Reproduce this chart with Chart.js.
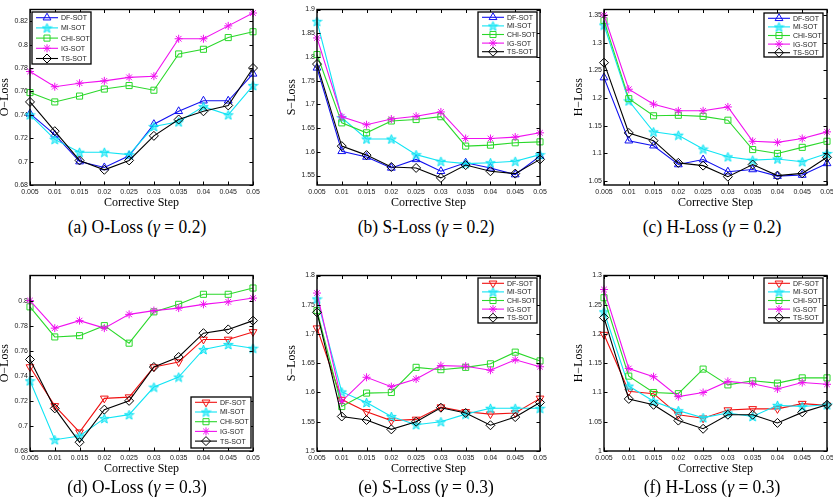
<!DOCTYPE html>
<html>
<head>
<meta charset="utf-8">
<script src="https://cdn.jsdelivr.net/npm/chart.js@4.4.1/dist/chart.umd.min.js"></script>
<style>
html,body{margin:0;padding:0;background:#fff;width:833px;height:498px;overflow:hidden;position:relative}
canvas{position:absolute}
.cap{position:absolute;font-family:"Liberation Serif","Times New Roman",serif;font-size:18px;line-height:20px;color:#000;white-space:nowrap;transform:translate(-50%,-50%) scaleX(0.97);}
</style>
</head>
<body>
<canvas id="ca"></canvas>
<canvas id="cb"></canvas>
<canvas id="cc"></canvas>
<canvas id="cd"></canvas>
<canvas id="ce"></canvas>
<canvas id="cf"></canvas>
<div class="cap" style="left:137px;top:227px">(a) O-Loss (<i>γ</i> = 0.2)</div>
<div class="cap" style="left:426px;top:227px">(b) S-Loss (<i>γ</i> = 0.2)</div>
<div class="cap" style="left:712px;top:227px">(c) H-Loss (<i>γ</i> = 0.2)</div>
<div class="cap" style="left:137px;top:487px">(d) O-Loss (<i>γ</i> = 0.3)</div>
<div class="cap" style="left:426px;top:487px">(e) S-Loss (<i>γ</i> = 0.3)</div>
<div class="cap" style="left:712px;top:487px">(f) H-Loss (<i>γ</i> = 0.3)</div>
<script>
// ---------- DATA ----------
const steps = ['0.005','0.01','0.015','0.02','0.025','0.03','0.035','0.04','0.045','0.05'];
const seriesNames = ['DF-SOT','MI-SOT','CHI-SOT','IG-SOT','TS-SOT'];

// (a) O-Loss, gamma = 0.2
const oLoss02_DF  = [0.741,0.723,0.700,0.695,0.705,0.732,0.743,0.752,0.752,0.775];
const oLoss02_MI  = [0.740,0.719,0.708,0.708,0.706,0.730,0.734,0.747,0.740,0.765];
const oLoss02_CHI = [0.759,0.751,0.756,0.762,0.765,0.761,0.792,0.796,0.806,0.811];
const oLoss02_IG  = [0.777,0.764,0.767,0.769,0.772,0.773,0.805,0.805,0.816,0.827];
const oLoss02_TS  = [0.751,0.726,0.701,0.693,0.701,0.722,0.736,0.743,0.748,0.780];

// (b) S-Loss, gamma = 0.2
const sLoss02_DF  = [1.777,1.601,1.589,1.566,1.584,1.559,1.577,1.566,1.552,1.591];
const sLoss02_MI  = [1.875,1.672,1.627,1.627,1.594,1.580,1.575,1.577,1.580,1.594];
const sLoss02_CHI = [1.805,1.661,1.640,1.665,1.668,1.674,1.612,1.614,1.619,1.621];
const sLoss02_IG  = [1.840,1.674,1.657,1.669,1.675,1.684,1.628,1.628,1.631,1.640];
const sLoss02_TS  = [1.785,1.612,1.593,1.568,1.566,1.545,1.572,1.559,1.554,1.584];

// (c) H-Loss, gamma = 0.2
const hLoss02_DF  = [1.237,1.123,1.114,1.080,1.089,1.067,1.071,1.059,1.061,1.082];
const hLoss02_MI  = [1.332,1.195,1.139,1.133,1.108,1.094,1.088,1.090,1.085,1.100];
const hLoss02_CHI = [1.340,1.199,1.168,1.169,1.167,1.160,1.107,1.100,1.111,1.122];
const hLoss02_IG  = [1.350,1.216,1.189,1.177,1.177,1.184,1.122,1.120,1.127,1.139];
const hLoss02_TS  = [1.264,1.137,1.123,1.083,1.078,1.058,1.080,1.060,1.064,1.093];

// (d) O-Loss, gamma = 0.3
const oLoss03_DF  = [0.747,0.716,0.695,0.722,0.723,0.747,0.751,0.769,0.769,0.775];
const oLoss03_MI  = [0.736,0.689,0.692,0.706,0.709,0.731,0.739,0.761,0.765,0.762];
const oLoss03_CHI = [0.795,0.771,0.772,0.780,0.766,0.791,0.797,0.805,0.805,0.810];
const oLoss03_IG  = [0.800,0.778,0.784,0.778,0.789,0.792,0.794,0.797,0.799,0.802];
const oLoss03_TS  = [0.753,0.714,0.687,0.713,0.720,0.747,0.755,0.774,0.777,0.784];

// (e) S-Loss, gamma = 0.3
const sLoss03_DF  = [1.710,1.588,1.567,1.552,1.554,1.575,1.567,1.563,1.565,1.590];
const sLoss03_MI  = [1.760,1.601,1.583,1.559,1.545,1.550,1.563,1.573,1.573,1.573];
const sLoss03_CHI = [1.740,1.576,1.599,1.600,1.643,1.639,1.643,1.649,1.669,1.654];
const sLoss03_IG  = [1.770,1.585,1.626,1.610,1.623,1.646,1.645,1.638,1.656,1.644];
const sLoss03_TS  = [1.737,1.559,1.553,1.537,1.550,1.574,1.565,1.544,1.558,1.583];

// (f) H-Loss, gamma = 0.3
const hLoss03_DF  = [1.199,1.102,1.098,1.062,1.056,1.070,1.072,1.072,1.081,1.078];
const hLoss03_MI  = [1.238,1.111,1.085,1.069,1.057,1.065,1.059,1.078,1.076,1.079];
const hLoss03_CHI = [1.262,1.128,1.100,1.098,1.140,1.113,1.120,1.116,1.125,1.125];
const hLoss03_IG  = [1.276,1.141,1.127,1.093,1.100,1.119,1.115,1.106,1.117,1.114];
const hLoss03_TS  = [1.228,1.089,1.079,1.052,1.038,1.062,1.062,1.048,1.066,1.079];

// y tick values
const yTicksO02 = [0.68,0.70,0.72,0.74,0.76,0.78,0.80,0.82];
const yTicksS02 = [1.55,1.60,1.65,1.70,1.75,1.80,1.85,1.90];
const yTicksH02 = [1.05,1.10,1.15,1.20,1.25,1.30,1.35];
const yTicksO03 = [0.68,0.70,0.72,0.74,0.76,0.78,0.80];
const yTicksS03 = [1.50,1.55,1.60,1.65,1.70,1.75,1.80];
const yTicksH03 = [1.00,1.05,1.10,1.15,1.20,1.25,1.30];

// ---------- STYLE ----------
Chart.defaults.font.family = '"Liberation Sans", Arial, Helvetica, sans-serif';
Chart.defaults.font.size = 7;
Chart.defaults.color = '#222';

function makePentagram(color){
  const c = document.createElement('canvas');
  c.width = 11; c.height = 11;
  const g = c.getContext('2d');
  g.beginPath();
  for (let i = 0; i < 10; i++) {
    const r = (i % 2) ? 2.1 : 5;
    const a = -Math.PI/2 + i*Math.PI/5;
    const x = 5.5 + r*Math.cos(a), y = 6 + r*Math.sin(a);
    if (i) g.lineTo(x,y); else g.moveTo(x,y);
  }
  g.closePath();
  g.fillStyle = color; g.globalAlpha = 0.55; g.fill();
  g.globalAlpha = 1; g.strokeStyle = color; g.lineWidth = 1; g.stroke();
  return c;
}
const CYAN = '#10e4f4';
const pentagram = makePentagram(CYAN);

function styleFor(name, row){
  switch(name){
    case 'DF-SOT': return row === 0
      ? {color:'#1010f0', pointStyle:'triangle', rot:0, r:4.5}
      : {color:'#f01010', pointStyle:'triangle', rot:180, r:4.5};
    case 'MI-SOT': return {color:CYAN, pointStyle:pentagram, rot:0, r:4.5};
    case 'CHI-SOT': return {color:'#2ad82a', pointStyle:'rect', rot:0, r:4.3};
    case 'IG-SOT': return {color:'#f010f0', pointStyle:'star', rot:0, r:4};
    case 'TS-SOT': return {color:'#000000', pointStyle:'rectRot', rot:0, r:4.5};
  }
}

function drawMarker(ctx, st, x, y){
  const style = st.pointStyle, r = st.r;
  if (style instanceof HTMLCanvasElement){
    ctx.drawImage(style, x - style.width/2, y - style.height/2);
    return;
  }
  ctx.save();
  ctx.translate(x,y);
  ctx.rotate(st.rot*Math.PI/180);
  ctx.strokeStyle = st.color; ctx.lineWidth = 1;
  ctx.beginPath();
  if (style === 'triangle'){
    for (let k=0;k<3;k++){ const a=k*2*Math.PI/3; const px=Math.sin(a)*r, py=-Math.cos(a)*r; if(k) ctx.lineTo(px,py); else ctx.moveTo(px,py); }
    ctx.closePath();
  } else if (style === 'rect'){
    const s = r*Math.SQRT1_2; ctx.rect(-s,-s,2*s,2*s);
  } else if (style === 'rectRot'){
    ctx.moveTo(0,-r); ctx.lineTo(r,0); ctx.lineTo(0,r); ctx.lineTo(-r,0); ctx.closePath();
  } else if (style === 'star'){
    for (let k=0;k<4;k++){ const a=k*Math.PI/4; ctx.moveTo(Math.cos(a)*r,Math.sin(a)*r); ctx.lineTo(-Math.cos(a)*r,-Math.sin(a)*r); }
  }
  ctx.stroke();
  ctx.restore();
}

const axesBox = {
  id: 'axesBox',
  afterDraw(chart){
    const {ctx, chartArea:{left,right,top,bottom}, scales:{x,y}} = chart;
    ctx.save();
    ctx.strokeStyle = '#000'; ctx.lineWidth = 1;
    const tl = 3.5;
    ctx.beginPath();
    for (let i=0;i<x.ticks.length;i++){
      const px = Math.round(x.getPixelForTick(i)) + 0.5;
      ctx.moveTo(px,bottom); ctx.lineTo(px,bottom-tl);
      ctx.moveTo(px,top); ctx.lineTo(px,top+tl);
    }
    y.ticks.forEach(t=>{
      const py = Math.round(y.getPixelForValue(t.value)) + 0.5;
      ctx.moveTo(left,py); ctx.lineTo(left+tl,py);
      ctx.moveTo(right,py); ctx.lineTo(right-tl,py);
    });
    ctx.stroke();
    ctx.lineWidth = 1.4;
    ctx.strokeRect(left,top,right-left,bottom-top);
    ctx.restore();
  }
};

const mLegend = {
  id: 'mLegend',
  afterDraw(chart, args, o){
    const {ctx, chartArea:{left,right,top,bottom}} = chart;
    const w = o.w, h = o.h;
    let bx, by;
    if (o.corner === 'tl'){ bx = left + o.gx; by = top + o.gy; }
    else if (o.corner === 'tr'){ bx = right - o.gx - w; by = top + o.gy; }
    else { bx = right - o.gx - w; by = bottom - o.gy - h; }
    ctx.save();
    ctx.fillStyle = '#fff';
    ctx.fillRect(bx,by,w,h);
    ctx.strokeStyle = '#000'; ctx.lineWidth = 1.3;
    ctx.strokeRect(bx,by,w,h);
    ctx.font = '7px "Liberation Sans", Arial, sans-serif';
    ctx.textBaseline = 'middle';
    ctx.textAlign = 'left';
    chart.data.datasets.forEach((ds,i)=>{
      const st = ds._st;
      const yy = by + o.first + i*o.rowH;
      ctx.strokeStyle = st.color; ctx.lineWidth = 1.1;
      ctx.beginPath(); ctx.moveTo(bx+4,yy); ctx.lineTo(bx+26,yy); ctx.stroke();
      drawMarker(ctx, st, bx+15, yy);
      ctx.fillStyle = '#222';
      ctx.fillText(ds.label, bx+29, yy+0.5);
    });
    ctx.restore();
  }
};

function fmt(v){ return String(Math.round(v*1000)/1000); }

const PLOT_W = 223, YAX_W = 40, XAX_H = 30, PAD_T = 9.5, PAD_R = 10;

function makeChart(id, cfg){
  const canvas = document.getElementById(id);
  const W = YAX_W + PLOT_W + PAD_R, H = 215;
  canvas.width = W; canvas.height = H;
  canvas.style.left = (cfg.plotLeft - YAX_W) + 'px';
  canvas.style.top = cfg.canvasTop + 'px';
  const datasets = seriesNames.map((name,i)=>{
    const st = styleFor(name, cfg.row);
    return {
      label: name,
      data: cfg.series[i],
      _st: st,
      borderColor: st.color,
      backgroundColor: st.color,
      borderWidth: 1.1,
      pointStyle: st.pointStyle,
      pointRotation: st.rot,
      pointRadius: st.r,
      pointBorderWidth: 1,
      pointBorderColor: st.color,
      pointBackgroundColor: 'rgba(0,0,0,0)',
      tension: 0,
      fill: false,
      clip: false,
      order: 5 - i
    };
  });
  return new Chart(canvas, {
    type: 'line',
    data: { labels: steps, datasets },
    options: {
      responsive: false,
      animation: false,
      devicePixelRatio: 1,
      layout: { padding: { top: PAD_T, right: PAD_R, left: 0, bottom: 0 } },
      plugins: {
        legend: { display: false },
        tooltip: { enabled: false },
        mLegend: cfg.legend
      },
      scales: {
        x: {
          type: 'category',
          offset: false,
          grid: { display: false, drawTicks: false },
          border: { display: false },
          ticks: { font: { size: 7 }, color: '#222', padding: 3, maxRotation: 0, autoSkip: false },
          title: { display: true, text: 'Corrective Step', color: '#000',
                   font: { family: '"Liberation Serif", "Times New Roman", serif', size: 12 },
                   padding: { top: 0, bottom: 5 } },
          afterFit: s => { s.height = XAX_H; }
        },
        y: {
          type: 'linear',
          min: cfg.yMin, max: cfg.yMax,
          grid: { display: false, drawTicks: false },
          border: { display: false },
          ticks: { font: { size: 7 }, color: '#222', padding: 2, autoSkip: false, callback: v => fmt(v) },
          afterBuildTicks: s => { s.ticks = cfg.yTicks.map(v => ({ value: v })); },
          title: { display: true, text: cfg.yTitle, color: '#000',
                   font: { family: '"Liberation Serif", "Times New Roman", serif', size: 12 },
                   padding: { top: 8, bottom: 0 } },
          afterFit: s => { s.width = YAX_W; }
        }
      }
    },
    plugins: [axesBox, mLegend]
  });
}

makeChart('ca', { row:0, plotLeft:30, canvasTop:0, yMin:0.68, yMax:0.83, yTicks:yTicksO02, yTitle:'O−Loss',
  series:[oLoss02_DF,oLoss02_MI,oLoss02_CHI,oLoss02_IG,oLoss02_TS],
  legend:{corner:'tl', gx:2, gy:2.5, w:59, h:52, rowH:10.2, first:5.7} });
makeChart('cb', { row:0, plotLeft:317, canvasTop:0, yMin:1.53, yMax:1.90, yTicks:yTicksS02, yTitle:'S−Loss',
  series:[sLoss02_DF,sLoss02_MI,sLoss02_CHI,sLoss02_IG,sLoss02_TS],
  legend:{corner:'tr', gx:3, gy:2.5, w:59, h:45, rowH:8.6, first:5.3} });
makeChart('cc', { row:0, plotLeft:604, canvasTop:0, yMin:1.043, yMax:1.36, yTicks:yTicksH02, yTitle:'H−Loss',
  series:[hLoss02_DF,hLoss02_MI,hLoss02_CHI,hLoss02_IG,hLoss02_TS],
  legend:{corner:'tr', gx:4, gy:3.5, w:59, h:44, rowH:8.6, first:5.3} });
makeChart('cd', { row:1, plotLeft:30, canvasTop:266, yMin:0.68, yMax:0.82, yTicks:yTicksO03, yTitle:'O−Loss',
  series:[oLoss03_DF,oLoss03_MI,oLoss03_CHI,oLoss03_IG,oLoss03_TS],
  legend:{corner:'br', gx:2, gy:3, w:60, h:51, rowH:9.7, first:5.3} });
makeChart('ce', { row:1, plotLeft:317, canvasTop:266, yMin:1.50, yMax:1.80, yTicks:yTicksS03, yTitle:'S−Loss',
  series:[sLoss03_DF,sLoss03_MI,sLoss03_CHI,sLoss03_IG,sLoss03_TS],
  legend:{corner:'tr', gx:3, gy:2.5, w:59, h:45, rowH:8.6, first:5.3} });
makeChart('cf', { row:1, plotLeft:604, canvasTop:266, yMin:1.00, yMax:1.30, yTicks:yTicksH03, yTitle:'H−Loss',
  series:[hLoss03_DF,hLoss03_MI,hLoss03_CHI,hLoss03_IG,hLoss03_TS],
  legend:{corner:'tr', gx:4, gy:2.5, w:59, h:45, rowH:8.6, first:5.3} });
</script>
</body>
</html>
